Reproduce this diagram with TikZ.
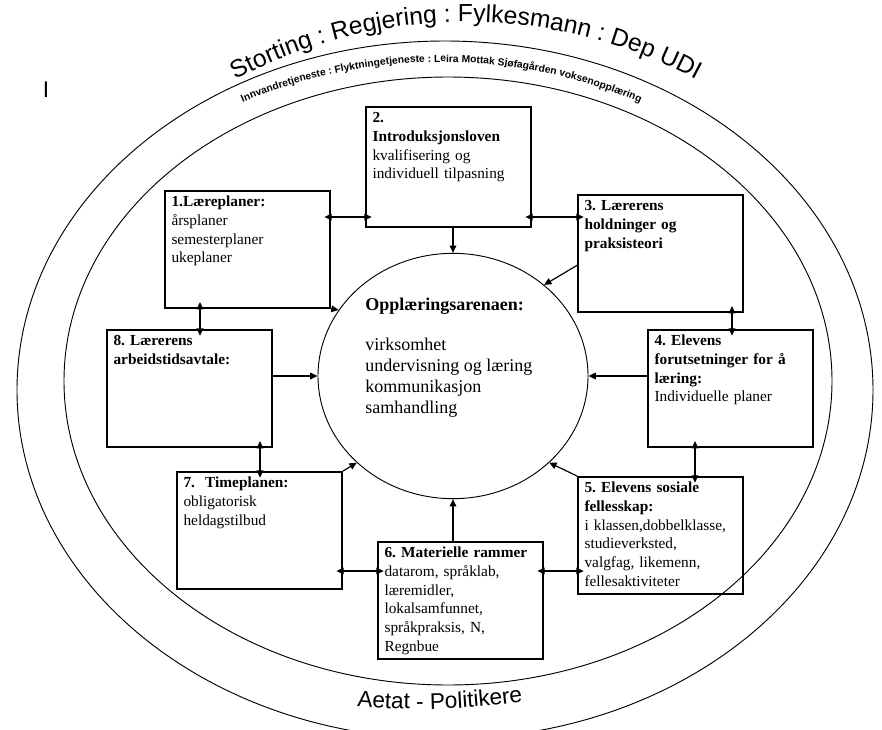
\documentclass[tikz,border=0pt]{standalone}
\usepackage{fontspec}
\setmainfont{Liberation Serif}
\newfontfamily\arialfont{Liberation Sans}
\usepackage{tikz}
\usetikzlibrary{arrows.meta, shapes.geometric, decorations.text}
\frenchspacing

\newcommand{\boxfont}{\fontsize{11.5}{14}\selectfont}
\newcommand{\arenafont}{\fontsize{13.5}{15.75}\selectfont}

\begin{document}
\begin{tikzpicture}[
        x=0.75pt, y=-0.75pt,
        box/.style={rectangle, draw, line width=1.3pt, anchor=north west, align=left, text width=114pt, inner xsep=5pt, inner ysep=4pt, text height=8pt, text depth=71.75pt, font=\boxfont},
        arena/.style={ellipse, draw, line width=0.7pt, minimum width=202.5pt, minimum height=184pt, inner sep=0pt},
        ring/.style={draw, line width=0.7pt},
        link/.style={-{Triangle[length=5.5pt, width=5pt]}, line width=0.9pt},
        dlink/.style={{Triangle[length=5.5pt, width=5pt]}-{Triangle[length=5.5pt, width=5pt]}, line width=0.9pt, shorten <=-5pt, shorten >=-5pt}
    ]

    \useasboundingbox[fill=white] (0,0) rectangle (882,729);

    % Rings
    \draw[ring] (445,390) ellipse [x radius=428, y radius=349];
    \draw[ring] (448,381) ellipse [x radius=384, y radius=304];

    \path[decorate, decoration={text along path, text align=center, text={|\arialfont\fontsize{18.5}{20}\selectfont|Storting : Regjering : Fylkesmann : Dep UDI}}] (90.6,197) arc[start angle=-140, end angle=-40, radius=490];
    \path[decorate, decoration={text along path, text align=center, text={|\arialfont\bfseries\fontsize{7.7}{8}\selectfont|Innvandretjeneste : Flyktningetjeneste : Leira Mottak Sjøfagården voksenopplæring}}] (115.1,180.6) arc[start angle=-130, end angle=-50, radius=507];
    \path[decorate, decoration={text along path, text align=left, text={|\arialfont\fontsize{17}{18}\selectfont|Aetat - Politikere}}] (357,706.2) arc[start angle=95.16, end angle=70, radius=700];

    \node[font=\arialfont\fontsize{17}{17}\selectfont, inner sep=0pt] (markI) at (46,90) {I};

    % Nodes
    \node[arena] (arena) at (453,376) {};
    \node[font=\arenafont, align=left, anchor=north west, inner sep=0pt] (arenatxt) at (365,298) {\textbf{Opplæringsarenaen:}\\[14pt] virksomhet\\ undervisning og læring\\ kommunikasjon\\ samhandling};

    \node[box] (laereplan) at (164,190) {\textbf{1.Læreplaner:}\\ årsplaner\\ semesterplaner\\ ukeplaner};
    \node[box, text depth=74pt] (introlov) at (365,106) {\textbf{2.}\\ \textbf{Introduksjonsloven}\\ kvalifisering og\\ individuell tilpasning};
    \node[box] (holdning) at (577,194) {\textbf{3. Lærerens}\\ \textbf{holdninger og}\\ \textbf{praksisteori}};
    \node[box] (forutset) at (647,329) {\textbf{4. Elevens}\\ \textbf{forutsetninger for å}\\ \textbf{læring:}\\ Individuelle planer};
    \node[box] (sosial) at (577,476) {\textbf{5. Elevens sosiale}\\ \textbf{fellesskap:}\\ i klassen,dobbelklasse,\\ studieverksted,\\ valgfag, likemenn,\\ fellesaktiviteter};
    \node[box] (materiell) at (377,541) {\textbf{6. Materielle rammer}\\ datarom, språklab,\\ læremidler,\\ lokalsamfunnet,\\ språkpraksis, N,\\ Regnbue};
    \node[box] (timeplan) at (176,471) {\textbf{7.\ \ Timeplanen:}\\ obligatorisk\\ heldagstilbud};
    \node[box] (arbeidstid) at (106,329) {\textbf{8. Lærerens}\\ \textbf{arbeidstidsavtale:}};

    % Arrows
    \draw[dlink] (laereplan.east |- 0,217) -- (introlov.west |- 0,217);
    \draw[dlink] (introlov.east |- 0,217) -- (holdning.west |- 0,217);
    \draw[dlink] (732,0 |- holdning.south) -- (732,0 |- forutset.north);
    \draw[dlink] (695,0 |- forutset.south) -- (695,0 |- sosial.north);
    \draw[dlink] (materiell.east |- 0,571) -- (sosial.west |- 0,571);
    \draw[dlink] (timeplan.east |- 0,571) -- (materiell.west |- 0,571);
    \draw[dlink] (260,0 |- arbeidstid.south) -- (260,0 |- timeplan.north);
    \draw[dlink] (200,0 |- laereplan.south) -- (200,0 |- arbeidstid.north);

    \draw[link] (arena.north |- introlov.south) -- (arena.north);
    \draw[link] (laereplan.south east) -- (arena.150);
    \draw[link] ([yshift=-9pt]holdning.west) -- (arena.45);
    \draw[link] (arbeidstid.east |- arena.west) -- (arena.west);
    \draw[link] (forutset.west |- arena.east) -- (arena.east);
    \draw[link] (timeplan.north east) -- (arena.222);
    \draw[link] (sosial.north west) -- (arena.318);
    \draw[link] (arena.south |- materiell.north) -- (arena.south);

\end{tikzpicture}
\end{document}
